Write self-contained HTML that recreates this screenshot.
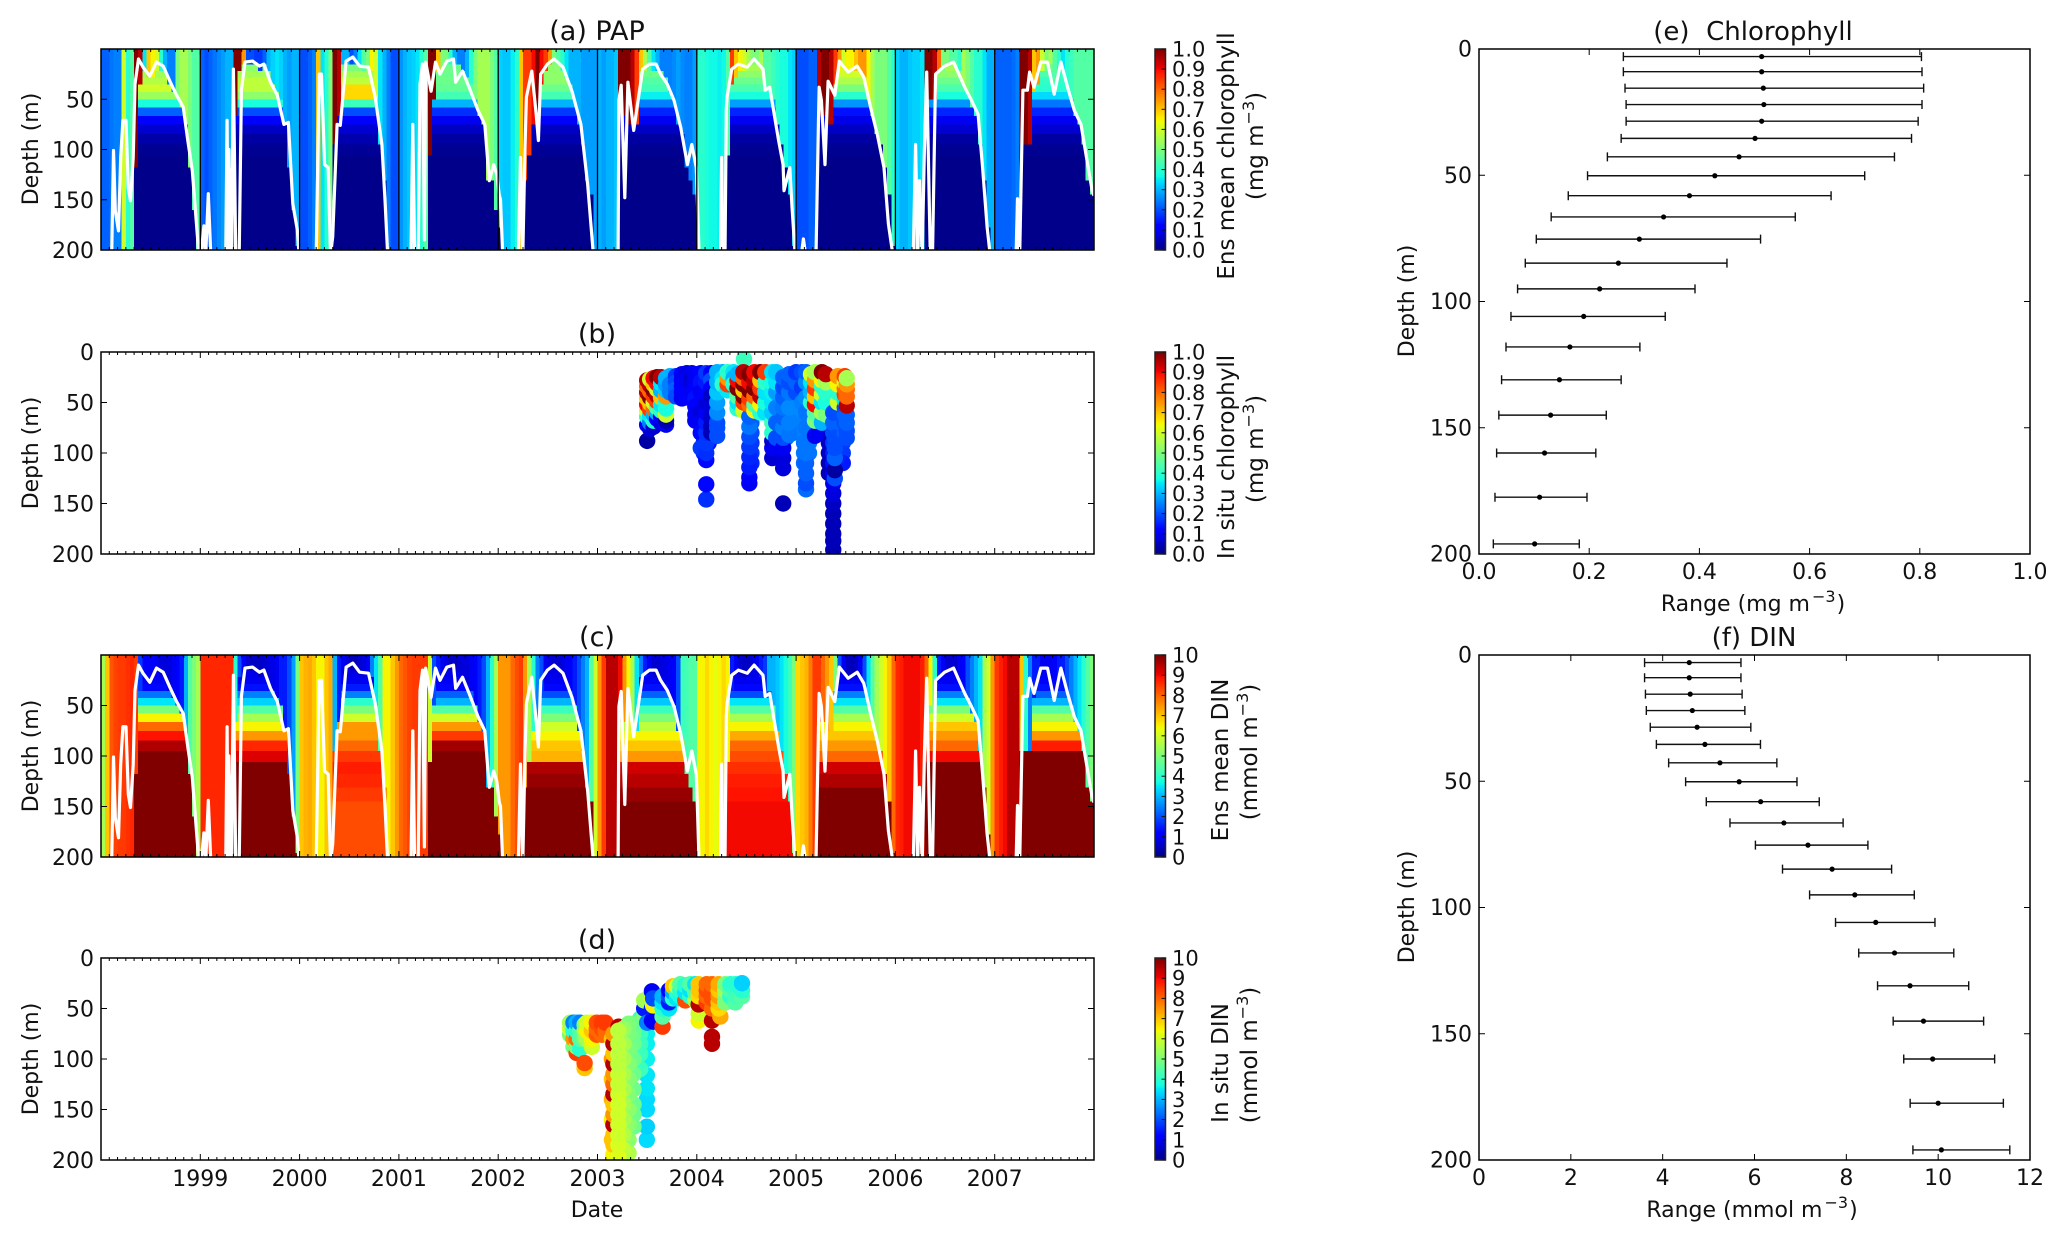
<!DOCTYPE html>
<html lang="en">
<head>
<meta charset="utf-8">
<title>PAP chlorophyll and DIN depth-time plots</title>
<style>
  html, body { margin: 0; padding: 0; background: #fff; }
  svg { display: block; }
  text { font-family: "DejaVu Sans", "Liberation Sans", sans-serif; fill: #111; }
</style>
</head>
<body>
<svg id="figure" xmlns="http://www.w3.org/2000/svg" width="2067" height="1244" viewBox="0 0 2067 1244">
  <rect x="0" y="0" width="2067" height="1244" fill="#ffffff"/>
  <g id="layers"></g>

  <text x="597" y="40" font-size="27" text-anchor="middle">(a) PAP</text>
  <text x="597" y="343" font-size="27" text-anchor="middle">(b)</text>
  <text x="597" y="646" font-size="27" text-anchor="middle">(c)</text>
  <text x="597" y="949" font-size="27" text-anchor="middle">(d)</text>
  <text x="1753" y="40" font-size="26" text-anchor="middle">(e)&#160;&#160;Chlorophyll</text>
  <text x="1754" y="646" font-size="26" text-anchor="middle">(f) DIN</text>

  <text transform="translate(38,149) rotate(-90)" font-size="22" text-anchor="middle">Depth (m)</text>
  <text transform="translate(38,453) rotate(-90)" font-size="22" text-anchor="middle">Depth (m)</text>
  <text transform="translate(38,756) rotate(-90)" font-size="22" text-anchor="middle">Depth (m)</text>
  <text transform="translate(38,1059) rotate(-90)" font-size="22" text-anchor="middle">Depth (m)</text>
  <text transform="translate(1414,301) rotate(-90)" font-size="22" text-anchor="middle">Depth (m)</text>
  <text transform="translate(1414,907) rotate(-90)" font-size="22" text-anchor="middle">Depth (m)</text>

  <text x="597" y="1217" font-size="22" text-anchor="middle">Date</text>
  <text x="1753" y="611" font-size="22" text-anchor="middle">Range (mg m<tspan font-size="16" dy="-9" dx="2">−3</tspan><tspan dy="9" dx="1">)</tspan></text>
  <text x="1752" y="1217" font-size="22" text-anchor="middle">Range (mmol m<tspan font-size="16" dy="-9" dx="2">−3</tspan><tspan dy="9" dx="1">)</tspan></text>

  <text transform="translate(1234,156) rotate(-90)" font-size="23" text-anchor="middle">Ens mean chlorophyll</text>
  <text transform="translate(1263,146) rotate(-90)" font-size="23" text-anchor="middle">(mg m<tspan font-size="16" dy="-9">−3</tspan><tspan dy="9">)</tspan></text>
  <text transform="translate(1234,457) rotate(-90)" font-size="23" text-anchor="middle">In situ chlorophyll</text>
  <text transform="translate(1263,449) rotate(-90)" font-size="23" text-anchor="middle">(mg m<tspan font-size="16" dy="-9">−3</tspan><tspan dy="9">)</tspan></text>
  <text transform="translate(1228,760) rotate(-90)" font-size="23" text-anchor="middle">Ens mean DIN</text>
  <text transform="translate(1257,752) rotate(-90)" font-size="23" text-anchor="middle">(mmol m<tspan font-size="16" dy="-9">−3</tspan><tspan dy="9">)</tspan></text>
  <text transform="translate(1228,1063) rotate(-90)" font-size="23" text-anchor="middle">In situ DIN</text>
  <text transform="translate(1257,1055) rotate(-90)" font-size="23" text-anchor="middle">(mmol m<tspan font-size="16" dy="-9">−3</tspan><tspan dy="9">)</tspan></text>
</svg>

<script>
// ---- Shared categories ----
const modelYears = [1998, 1999, 2000, 2001, 2002, 2003, 2004, 2005, 2006, 2007];
const dateTickLabels = [1999, 2000, 2001, 2002, 2003, 2004, 2005, 2006, 2007];
const depthLevels = [3, 9, 15.5, 22, 28.6, 35.4, 42.7, 50.2, 58.1, 66.5, 75.3, 84.8, 95, 105.9, 118, 131, 145, 160, 177.5, 196];
const depthTicksNoZero = [50, 100, 150, 200];
const depthTicksWithZero = [0, 50, 100, 150, 200];
const chlColorbarTicks = [0, 0.1, 0.2, 0.3, 0.4, 0.5, 0.6, 0.7, 0.8, 0.9, 1];
const dinColorbarTicks = [0, 1, 2, 3, 4, 5, 6, 7, 8, 9, 10];
const chlRangeTicks = [0, 0.2, 0.4, 0.6, 0.8, 1];
const dinRangeTicks = [0, 2, 4, 6, 8, 10, 12];

// ---- Mixing depth per half-month column (m), one row per year ----
const mixDepth = [
  [200,200,200,200,200,200,200,200,110,35,22,25,25,20,20,22,30,40,48,55,75,110,150,200],
  [200,200,200,200,200,200,200,200,62,20,14,13,12,12,16,15,20,30,40,50,75,110,150,190],
  [200,200,200,200,200,200,200,200,90,60,15,12,10,10,15,18,18,22,48,85,130,200,200,200],
  [200,200,200,200,200,200,200,100,45,20,20,15,12,10,15,22,25,35,45,60,75,120,130,150],
  [170,200,200,200,200,200,120,100,70,60,30,20,15,12,15,18,25,35,50,70,85,125,145,200],
  [200,200,200,200,200,65,65,70,70,70,20,20,18,17,17,22,28,40,50,70,80,110,125,145],
  [200,200,200,200,200,200,200,100,30,25,20,20,15,15,15,20,30,35,48,70,90,110,140,190],
  [200,200,200,200,200,60,60,70,75,30,15,17,20,20,17,20,25,45,65,80,90,110,135,180],
  [200,200,200,200,200,200,200,50,50,45,20,16,15,14,13,17,30,40,52,62,85,120,175,200],
  [200,200,200,200,200,200,85,85,85,40,30,18,15,15,30,30,20,35,50,62,75,95,125,140]
];

// ---- Ensemble mean chlorophyll within the mixed layer (mg m-3) ----
const chlMixed = [
  [.22,.22,.24,.25,.25,.6,.4,.45,1,.95,.35,.7,.65,.6,.4,.3,.25,.25,.5,.55,.55,.5,.45,.45],
  [.22,.2,.22,.24,.26,.28,.3,.3,1,1,.75,.2,.2,.18,.18,.22,.3,.33,.35,.33,.3,.28,.3,.3],
  [.2,.2,.22,.25,.7,.35,.4,.5,1,.95,.3,.3,.2,.25,.35,.45,.5,.65,.6,.35,.3,.25,.2,.2],
  [.27,.3,.32,.33,.35,.4,.45,1,1,.7,.5,.5,.4,.3,.25,.25,.3,.4,.5,.55,.55,.55,.5,.45],
  [.33,.32,.32,.36,.4,.7,.85,.85,.9,1,.9,.85,.75,.5,.45,.4,.35,.3,.3,.3,.28,.28,.28,.28],
  [.3,.28,.3,.3,.32,1,1,1,.95,.85,.7,.55,.45,.35,.3,.25,.25,.25,.26,.28,.26,.25,.25,.28],
  [.4,.4,.38,.37,.37,.36,.37,.45,.85,.7,.65,.6,.55,.5,.5,.55,.45,.45,.42,.4,.38,.38,.35,.33],
  [.2,.2,.2,.22,.22,.95,1,1,.95,.85,.75,.6,.65,.65,.7,.75,.75,.65,.55,.5,.5,.5,.45,.4],
  [.33,.3,.3,.32,.33,.33,.35,1,1,.95,.8,.5,.5,.45,.45,.4,.55,.5,.45,.4,.4,.35,.3,.3],
  [.22,.22,.22,.22,.23,.25,1,1,.95,.7,.75,.6,.5,.55,.45,.4,.35,.4,.42,.45,.45,.45,.45,.45]
];

// ---- Ensemble mean chlorophyll below the mixed layer, per depth level ----
const chlBelow = [
  [.52,.52,.52,.54,.57,.6,.54,.38,.22,.11,.07,.035,.015,.01,.01,.01,.01,.01,.01,.01],
  [.55,.55,.52,.55,.58,.58,.52,.38,.2,.11,.06,.03,.015,.01,.01,.01,.01,.01,.01,.01],
  [.5,.5,.5,.55,.58,.68,.68,.42,.2,.11,.07,.04,.02,.01,.01,.01,.01,.01,.01,.01],
  [.5,.48,.48,.48,.48,.47,.43,.3,.17,.1,.06,.03,.015,.01,.01,.01,.01,.01,.01,.01],
  [.55,.55,.52,.52,.52,.48,.43,.3,.18,.11,.06,.04,.02,.01,.01,.01,.01,.01,.01,.01],
  [.48,.48,.48,.48,.45,.43,.36,.25,.16,.1,.06,.03,.015,.01,.01,.01,.01,.01,.01,.01],
  [.55,.55,.55,.52,.48,.44,.38,.28,.16,.1,.06,.03,.015,.01,.01,.01,.01,.01,.01,.01],
  [.68,.65,.65,.6,.56,.5,.4,.27,.14,.09,.06,.03,.015,.01,.01,.01,.01,.01,.01,.01],
  [.55,.55,.55,.52,.48,.44,.38,.27,.16,.1,.07,.03,.015,.01,.01,.01,.01,.01,.01,.01],
  [.48,.48,.48,.44,.41,.4,.34,.24,.16,.1,.07,.03,.015,.01,.01,.01,.01,.01,.01,.01]
];

// ---- Ensemble mean DIN within the mixed layer (mmol m-3) ----
const dinMixed = [
  [5.5,7,8.2,8.4,8.5,8.5,8.6,8.7,8.5,1.8,1.2,1.2,1.2,1,.8,.8,.8,1,1.2,1.5,3,4.5,5,5.5],
  [8.7,8.7,8.7,8.7,8.7,8.7,8.7,8.7,4,2,1.2,.7,.6,.6,.6,.7,.8,.9,1,1.5,1.5,2,2.8,5],
  [7,7.2,7.3,7,6.5,6.5,7,7.3,3,1.5,1,.8,.5,.5,.7,.8,1,2.5,3.5,4.5,6.5,6.5,7,7.5],
  [8,8.2,8.4,8.5,8.5,8.5,8.5,6,2,1.5,1,.8,.6,.6,.7,.8,.8,1,1.2,1.5,2,3,4,5.5],
  [7.5,7.5,7.5,8,8.3,8.5,7.5,5.5,4,2.5,2,1,.8,.7,.7,.8,1,1.2,1.5,2,2.5,3,4.5,6],
  [7.5,8.5,9.5,9.5,9.5,9,7.5,6.5,5.5,3.5,2.5,1.5,1,.7,.7,.8,.9,1,1.2,2,4.2,4.3,4.5,4.5],
  [6.5,6.5,6.8,6.5,6.3,6.5,6.8,6.5,1.5,1,.7,.6,.6,.8,1,1.5,1.8,3,3,3.2,3.5,3.8,4.2,5],
  [6.8,7,7.2,7.8,8.5,8.5,8,7.5,7,5,2,1,.6,.5,.6,1,2,3.5,4.5,5.5,6,6.5,7,8],
  [8.7,8.8,9,9,9,9,8.8,8,6.5,4,1.5,1,.7,.7,.7,1,1.2,2,2.5,3,3.5,5.5,6,7.5],
  [8.5,8.8,9,9.5,9.5,9.5,7,4,2.5,1.5,1.5,1,1,1,1.2,1.5,1.5,2,2.5,3,3.5,4,4.5,5]
];

// ---- Ensemble mean DIN below the mixed layer, per depth level ----
const dinBelow = [
  [.8,.8,.9,1,1.3,2.4,3.5,5,6.5,8,8.9,9.6,10,10,10,10,10,10,10,10],
  [.8,.8,.9,1,1.4,2.5,3.3,4.5,5.5,6.5,7.5,8.7,9.2,10,10,10,10,10,10,10],
  [.8,.8,.9,1,1.5,2.5,4,5,6,7.5,7.5,8,8.5,8.8,8.7,8.5,8.3,8.3,8.3,8.3],
  [.8,.8,.9,1,1.3,2.2,3,4.5,6,7.5,8.5,9.7,10,10,10,10,10,10,10,10],
  [.8,.8,.9,1,1.3,2,3,4.2,5,6,6.5,7,7.2,9.6,9.8,10,10,10,10,10],
  [.8,.8,.9,1,1.4,2.2,3.2,4.2,5,5.8,6.5,7,7.5,9.3,9.5,9.8,10,10,10,10],
  [.8,.8,.9,1,1.3,2,3.5,4.5,5.5,6.5,7.3,8,8.3,8.6,8.8,8.9,9,9,9,9],
  [.8,.8,.9,1,1.4,2.5,3.5,4.5,5.5,6.5,7,7.5,8,9.3,9.6,10,10,10,10,10],
  [.8,.8,.9,1,1.4,2.5,3.5,5,6,7,7.5,8,9,10,10,10,10,10,10,10],
  [.9,.9,1,1.1,1.4,2.2,3,4.5,5.5,6.5,7.5,8.8,10,10,10,10,10,10,10,10]
];

// ---- Mixed layer depth line ----
const mldDate = [
  1998.108,1998.126,1998.144,1998.176,1998.198,1998.221,1998.252,1998.275,1998.297,1998.324,1998.342,1998.378,1998.423,1998.491,1998.559,1998.626,1998.694,1998.761,1998.829,1998.874,1998.919,1998.964,1998.986,
  1999.009,1999.036,1999.054,1999.081,1999.108,1999.234,1999.257,1999.27,1999.279,1999.288,1999.297,1999.306,1999.315,1999.333,1999.356,1999.392,1999.414,1999.45,1999.527,1999.595,1999.64,1999.707,1999.775,1999.842,1999.887,1999.932,1999.977,1999.995,
  2000.167,2000.198,2000.221,2000.252,2000.288,2000.311,2000.333,2000.378,2000.41,2000.468,2000.536,2000.604,2000.694,2000.761,2000.829,2000.86,2000.887,
  2001.122,2001.14,2001.158,2001.194,2001.212,2001.239,2001.257,2001.27,2001.324,2001.369,2001.414,2001.482,2001.55,2001.572,2001.64,2001.707,2001.797,2001.865,2001.91,2001.955,2001.986,
  2002.01,2002.023,2002.045,2002.203,2002.225,2002.248,2002.27,2002.284,2002.338,2002.383,2002.405,2002.428,2002.495,2002.563,2002.653,2002.743,2002.833,2002.901,2002.959,
  2003.207,2003.216,2003.239,2003.275,2003.306,2003.365,2003.455,2003.523,2003.59,2003.635,2003.703,2003.77,2003.838,2003.905,2003.95,2003.995,
  2004.005,2004.023,2004.239,2004.25,2004.261,2004.284,2004.297,2004.306,2004.351,2004.419,2004.509,2004.577,2004.667,2004.689,2004.734,2004.824,2004.869,2004.878,2004.937,2004.959,2004.991,
  2005.052,2005.074,2005.097,2005.2,2005.232,2005.255,2005.291,2005.322,2005.39,2005.435,2005.525,2005.615,2005.682,2005.75,2005.818,2005.885,2005.93,2005.975,
  2006.18,2006.203,2006.225,2006.243,2006.27,2006.292,2006.315,2006.351,2006.374,2006.405,2006.495,2006.586,2006.698,2006.766,2006.833,2006.878,2006.923,2006.955,
  2007.216,2007.23,2007.252,2007.284,2007.329,2007.351,2007.396,2007.464,2007.532,2007.599,2007.667,2007.734,2007.802,2007.869,2007.937,2007.982,2008
];
const mldDepth = [
  205,101,161,181,108,71,71,138,151,108,35,10,18,27,13,17,32,46,58,91,121,177,205,
  205,176,205,144,210,210,200,71,200,100,200,120,200,20,205,205,41,13,12,17,15,33,46,75,73,154,180,205,
  205,25,25,115,118,205,187,75,76,12,8,17,18,48,95,150,205,
  205,75,205,205,35,15,190,13,42,13,25,12,10,33,22,38,61,75,131,115,125,
  145,150,205,205,108,205,98,48,22,65,91,25,15,10,18,42,75,135,205,
  205,51,36,148,33,81,20,15,15,25,35,51,78,115,95,118,
  148,205,205,108,205,205,60,47,20,15,18,10,20,41,38,91,115,141,118,157,205,
  205,189,205,205,38,51,115,32,46,12,23,17,28,58,85,118,174,205,
  205,95,205,131,205,100,23,205,205,25,17,13,38,51,65,118,177,205,
  205,149,205,41,41,23,38,13,13,45,13,38,61,75,115,141,146
];

// ---- In situ chlorophyll profiles (panel b) ----
const chlObsDate = [2004.07,2004.12,2004.18,2004.55,2004.84,2004.9,2004.97,2005.08,2005.13,2005.33,2005.44,2005.47,2003.5,2003.53,2003.565,2003.6,2003.64,2003.69,2003.73,2003.79,2003.85,2003.9,2003.95,2003.985,2004.04,2004.095,2004.145,2004.205,2004.26,2004.31,2004.37,2004.475,2004.41,2004.47,2004.529,2004.58,2004.64,2004.69,2004.76,2004.8,2004.87,2004.93,2005,2005.06,2005.1,2005.15,2005.19,2005.26,2005.3,2005.374,2005.39,2005.42,2005.49,2005.51];
const chlObsDepth = [
  [30,40,50,60,70,80,90,100],[30,40,50,60,70,80,90],[30,40,50,60,70,75],[60,70,80,90,100,110],[60,70,80,90],[60,70,80,85],[50,60,70,80],[40,50,60,70,80,90,100,110],[40,50,60,70,80,90,100],[70,80,90,100,110,120],[60,70,80,90,100],[60,70,80,90,100,110],
  [88,72,64,58,52,46,40,34,28],[76,70,63,57,51,45,39,33,27],[74,68,62,56,50,44,38,32,26],[66,60,55,49,43,37,31,25],
  [70,64,58,52,45,38,31,25],[72,68,62,56,50,44,38,32,26],[24,32,40],[24,30,37,44],[22,28,34,40,46],[21,27,33,39,45],[21,27,33,39],
  [22,30,38,46,54,62,68],[21,30,40,50,60,70,80,95],[146,131,107,100,90,80,70,60,50,40,30,21],[21,28,36,44,55,66,74,80],
  [83,75,70,60,50,40,30,20],[20,26,32],[38,32,26,20],[20,26,32],[7],[56,50,44,36,28,22],[58,50,44,38,32,26,20],
  [130,124,114,104,94,84,74,64,52,46,38,30,22],[58,52,44,36,28,20],[60,52,44,36,28,20],[60,50,40,30,20],
  [105,95,88,80,70,60,50,40,30,20],[95,85,70,55,40,30,20],[150,115,105,95,85,75,65,55,45,35,25],[82,70,55,40,30,22],
  [40,30,20],[50,35,20],[136,130,120,110,100,90,75,60,45,30,20],[50,40,30,22],[83,68,60,52,44,36,28,20],[70,60,50,42,34,28,20],[62,50,40,30,22],
  [196,187,180,170,160,150,140,130,120,110,100,90,80,70,60],[125,117,105,95,85],[50,40,32,24],[80,70,62,55,48,42,36,30,24],[85,78,70,62,53,44,37,32,26]
];
const chlObsValue = [
  [.1,.12,.1,.1,.12,.15,.15,.16],[.12,.1,.08,.08,.1,.12,.14],[.2,.2,.22,.2,.2,.2],[.2,.22,.2,.18,.18,.16],[.24,.25,.24,.22],[.26,.25,.24,.22],[.25,.26,.25,.24],[.24,.25,.26,.25,.25,.24,.24,.23],[.26,.26,.25,.25,.25,.24,.24],[.08,.07,.06,.06,.05,.05],[.22,.22,.2,.2,.2],[.22,.2,.2,.18,.18,.15],
  [.03,.12,.4,.6,.9,.7,.95,.8,.95],[.08,.25,.35,.85,.7,1,.8,.95,.6],[.07,.4,.3,.8,.6,.85,1,.7,.9],[.12,.3,.45,.85,.95,.6,.9,1],
  [.08,.1,.4,.35,.7,.3,.35,.95],[.1,.04,.6,.38,.38,.75,.32,.28,.3],[.3,.25,.25],[.18,.2,.22,.2],[.12,.1,.12,.12,.1],[.08,.1,.1,.12,.12],[.1,.07,.08,.1],
  [.1,.1,.12,.14,.12,.1,.1],[.12,.14,.1,.12,.08,.1,.13,.18],[.17,.13,.13,.17,.18,.17,.15,.1,.08,.12,.15,.18],[.12,.2,.12,.06,.08,.07,.06,.05],
  [.2,.2,.2,.26,.28,.32,.3,.3],[.3,.35,.4],[.35,.85,.75,.4],[.35,.3,.4],[.42],[.4,.35,.45,1,.9,.3],[.6,.85,1,.7,1,.8,.95],
  [.1,.12,.15,.16,.18,.2,.24,.22,.8,.85,1,.9,1],[.65,.45,.8,1,.95,.9],[.4,.65,.95,.85,.7,1],[.35,.38,.35,.4,.85],
  [.07,.1,.07,.4,.42,.32,.35,.36,.38,.35],[.1,.2,.22,.25,.28,.35,.32],[.05,.08,.08,.1,.2,.25,.22,.24,.22,.2,.22],[.24,.25,.26,.24,.2,.22],
  [.2,.22,.18],[.25,.18,.2],[.23,.2,.22,.22,.24,.24,.24,.24,.26,.26,.22],[.4,.3,.35,.6],[.1,.5,.45,.9,.7,.85,.75,.55],[.3,.55,.35,.6,.4,.65,1],[.5,.38,.4,.55,.95],
  [.04,.05,.05,.05,.05,.06,.08,.09,.1,.14,.15,.18,.2,.22,.2],[.2,.03,.22,.2,.2],[.6,.4,.65,.75],[.22,.2,.22,.2,.35,.85,.8,.6,.85],[.2,.2,.22,.22,.95,.8,.8,.75,.55]
];

// ---- In situ DIN profiles (panel d) ----
const dinObsDate = [2002.724,2002.758,2002.79,2002.825,2002.87,2002.892,2002.943,2002.993,2003.044,2003.08,2003.145,2003.16,2003.212,2003.497,2003.43,2003.363,2003.313,2003.262,2003.21,2003.47,2003.5,2003.548,2003.56,2003.655,2003.72,2003.76,2003.8,2003.834,2003.884,2003.934,2003.985,2004.019,2004.1,2004.153,2004.237,2004.22,2004.287,2004.338,2004.388,2004.455];
const dinObsDepth = [
  [76,70,64],[88,80,72,64],[94,88,80,72,64],[90,80,72,64],[109,104,80,72,66],[80,72,64],[88,80,72,64],[76,70,64],[76,70,64],[72,64],
  [180,160,140,120,100,80],[195,185,175,165,155,145,135,125,115,105,95,85,75],[68],
  [180,167,150,140,129,116,100,85,75,65],[110,95,85,75,65,60],[167,155,145,130,115,100,85,75,65],[193,180,165,150,135,120,105,90,75,65],[190,175,160,145,130,115,100,85,70],[197,185,175,165,155,145,135,125,115,105,95,85,72],
  [58,50,42],[64],[62,50,40,33],[63,47,40],[68,58,50,44,38],[50,44,38,32],[40,34,28],[40,34,28],[38,32,26],[42,34,27],[38,32,26],[42,34,26],
  [62,55,46,38,32,26],[44,38,32,26],[85,78,62,50,40,32,26],[58],[50,44,38,32,26],[44,38,32,26],[38,32,26],[44,38,32,26],[38,32,25]
];
const dinObsValue = [
  [5,6,5.5],[5,7.5,4,2.5],[8.5,5,8,4,3],[4,4.5,4.5,2.5],[7,8.3,5,5.5,5],[5.5,6.5,6],[6,6.5,7,6.5],[8.2,8,8.3],[8,8.3,8.5],[8,8.5],
  [7,6.5,7.2,7,7.5,7],[6.5,7,7,9.5,7.5,7,9.5,8,7.5,9.5,7,9.5,7.5],[9.5],
  [3.4,3.3,3.4,3.4,3.5,3.5,3.6,3.6,3.6,3.7],[4.2,4.2,4.2,4.2,4.2,4.2],[4.8,4.8,4.8,4.8,4.8,4.8,4.8,4.8,4.7],[5.6,5.2,5.2,5.2,5.1,5.1,5.1,5,5,5],[5.8,5.6,5.5,5.5,5.5,5.5,5.5,5.5,5.3],[6.2,6.1,6,6,6,6,6,5.9,5.9,5.8,5.8,5.8,5.8],
  [5,1.5,5.5],[2.5],[1,1.5,6,1],[1,6.5,2],[8.5,4.5,4,3.5,3],[3.5,1.5,2,1.2],[4,3,7],[3.5,4,6],[3.8,4,4.5],[8.3,3.5,4],[4,3.5,4.5],[5.5,4.5,3.5],
  [6.5,6,9.5,6.8,7,7],[8.5,8,8.3,8],[9.5,9.5,9.5,8,8.3,8.3,8],[7.3],[6.8,7,7.5,7,7.3],[5,5,5.5,5],[4,4.5,4],[4.5,4.3,4.2,4],[4.5,4,3.3]
];

// ---- Ensemble ranges (panels e, f) ----
const chlRangeLow = [.262,.262,.265,.267,.267,.258,.233,.197,.162,.131,.104,.084,.07,.058,.049,.041,.036,.032,.029,.026];
const chlRangeMean = [.513,.513,.516,.517,.513,.501,.472,.428,.382,.335,.291,.253,.219,.19,.165,.146,.13,.119,.11,.101];
const chlRangeHigh = [.803,.804,.807,.804,.797,.785,.754,.7,.639,.574,.511,.45,.392,.338,.292,.258,.231,.212,.196,.182];
const dinRangeLow = [3.606,3.606,3.625,3.644,3.73,3.863,4.13,4.5,4.95,5.466,6.02,6.61,7.2,7.765,8.27,8.68,9.02,9.25,9.39,9.45];
const dinRangeMean = [4.579,4.579,4.6,4.646,4.75,4.92,5.247,5.666,6.134,6.64,7.164,7.69,8.185,8.64,9.05,9.387,9.68,9.88,10,10.07];
const dinRangeHigh = [5.705,5.705,5.73,5.79,5.92,6.13,6.487,6.925,7.41,7.93,8.47,8.986,9.48,9.93,10.34,10.665,10.99,11.23,11.42,11.56];

// ---- Drawing helpers ----
const SVG_NS = 'http://www.w3.org/2000/svg';
const layers = document.getElementById('layers');

function svgEl(tag, parent, attrs) {
  const node = document.createElementNS(SVG_NS, tag);
  for (const key in attrs) node.setAttribute(key, attrs[key]);
  parent.appendChild(node);
  return node;
}
function piecewise(pts, t) {
  for (let i = 1; i < pts.length; i++) {
    if (t <= pts[i][0]) {
      const a = pts[i - 1], b = pts[i];
      return a[1] + (b[1] - a[1]) * (t - a[0]) / (b[0] - a[0]);
    }
  }
  return pts[pts.length - 1][1];
}
const jetR = [[0, 0], [.35, 0], [.66, 1], [.89, 1], [1, .5]];
const jetG = [[0, 0], [.125, 0], [.375, 1], [.64, 1], [.91, 0], [1, 0]];
const jetB = [[0, .5], [.11, 1], [.34, 1], [.65, 0], [1, 0]];
function jet(t) {
  const v = Math.max(0, Math.min(1, t));
  const c = p => Math.round(255 * piecewise(p, v));
  return 'rgb(' + c(jetR) + ',' + c(jetG) + ',' + c(jetB) + ')';
}

const DATE_LEFT = 101, DATE_RIGHT = 1094;
const xDate = d => DATE_LEFT + (d - 1998) * (DATE_RIGHT - DATE_LEFT) / 10;
const depthScale = (top, bottom) => d => top + d / 200 * (bottom - top);

function makeClip(id, x, y, w, h) {
  const clip = svgEl('clipPath', layers, { id: id });
  svgEl('rect', clip, { x: x, y: y, width: w, height: h });
}

function drawHeatmap(panel, top, bottom, mixedVals, belowVals, vmax) {
  const yScale = depthScale(top, bottom);
  const g = svgEl('g', layers, { 'clip-path': 'url(#clip-' + panel + ')', 'shape-rendering': 'crispEdges' });
  
  
  modelYears.forEach((year, yi) => {
    const cols = mixDepth[yi].length;
    for (let c = 0; c < cols; c++) {
      const x0 = xDate(year + c / cols), x1 = xDate(year + (c + 1) / cols);
      depthLevels.forEach((lvl, k) => {
        const topDepth = k === 0 ? 0 : lvl;
        const botDepth = k === depthLevels.length - 1 ? 200 : depthLevels[k + 1];
        const value = lvl < mixDepth[yi][c] ? mixedVals[yi][c] : belowVals[yi][k];
        const cell = svgEl('rect', g, {
          x: x0, y: yScale(topDepth), width: x1 - x0 + 0.5,
          height: yScale(botDepth) - yScale(topDepth) + 0.5, fill: jet(value / vmax)
        });
        
        
      });
    }
  });
}

function drawMld(panel, top, bottom) {
  const yScale = depthScale(top, bottom);
  const pts = mldDate.map((d, i) => xDate(d).toFixed(1) + ',' + yScale(mldDepth[i]).toFixed(1)).join(' ');
  const line = svgEl('polyline', layers, {
    points: pts, fill: 'none', stroke: '#ffffff', 'stroke-width': 3.2,
    'stroke-linejoin': 'round', 'clip-path': 'url(#clip-' + panel + ')'
  });
  
  
}

function drawScatter(panel, top, bottom, dates, depths, values, vmax) {
  const yScale = depthScale(top, bottom);
  const g = svgEl('g', layers, { 'clip-path': 'url(#clip-' + panel + ')' });
  
  
  dates.forEach((date, p) => {
    depths[p].forEach((depth, i) => {
      const dot = svgEl('circle', g, {
        cx: xDate(date), cy: yScale(depth), r: 8.2, fill: jet(values[p][i] / vmax)
      });
      
      
    });
  });
}

function drawTimeAxes(panel, top, bottom, yTicks, withYearLines, withDateLabels) {
  const yScale = depthScale(top, bottom);
  const g = svgEl('g', layers, { stroke: '#000', 'stroke-width': 1, fill: 'none' });
  
  
  for (let y = 1998; y <= 2007; y++) {
    for (let m = 0; m < 12; m++) {
      const x = xDate(y + m / 12);
      const len = m === 0 ? 6 : 3;
      svgEl('path', g, { d: 'M' + x + ' ' + top + 'v' + len + 'M' + x + ' ' + bottom + 'v' + (-len) });
    }
    if (withYearLines && y > 1998) {
      const sep = svgEl('line', g, { x1: xDate(y), x2: xDate(y), y1: top, y2: bottom, 'stroke-width': 1.3 });
      
      
    }
  }
  yTicks.forEach(t => {
    const y = yScale(t);
    svgEl('path', g, { d: 'M' + DATE_LEFT + ' ' + y + 'h6M' + DATE_RIGHT + ' ' + y + 'h-6' });
    const label = svgEl('text', layers, { x: 94, y: y + 8, 'font-size': 22, 'text-anchor': 'end' });
    
    
    label.textContent = t;
  });
  const frame = svgEl('rect', g, { x: DATE_LEFT, y: top, width: DATE_RIGHT - DATE_LEFT, height: bottom - top, 'stroke-width': 1.5 });
  
  
  if (withDateLabels) {
    dateTickLabels.forEach(year => {
      const label = svgEl('text', layers, { x: xDate(year), y: 1186, 'font-size': 22, 'text-anchor': 'middle' });
      
      
      label.textContent = year;
    });
  }
}

function drawColorbar(panel, top, bottom, ticks, vmax, decimals) {
  const left = 1155, right = 1165.5, steps = 128;
  const g = svgEl('g', layers, { 'shape-rendering': 'crispEdges' });
  
  
  const h = (bottom - top) / steps;
  for (let i = 0; i < steps; i++) {
    const swatch = svgEl('rect', g, { x: left, y: bottom - (i + 1) * h, width: right - left, height: h + 0.6, fill: jet((i + 0.5) / steps) });
    
    
  }
  const frame = svgEl('rect', layers, { x: left, y: top, width: right - left, height: bottom - top, fill: 'none', stroke: '#222', 'stroke-width': 1.5 });
  
  
  ticks.forEach(t => {
    const y = bottom - t / vmax * (bottom - top);
    const tick = svgEl('line', layers, { x1: right - 4, x2: right, y1: y, y2: y, stroke: '#111', 'stroke-width': 1 });
    
    
    const label = svgEl('text', layers, { x: 1172, y: y + 7.5, 'font-size': 21 });
    
    
    label.textContent = t.toFixed(decimals);
  });
}

function drawRange(panel, top, bottom, xMax, xTicks, decimals, low, mean, high) {
  const left = 1479, right = 2030;
  const xScale = v => left + v / xMax * (right - left);
  const yScale = depthScale(top, bottom);
  const g = svgEl('g', layers, { stroke: '#000', 'stroke-width': 1, fill: 'none' });
  
  
  xTicks.forEach(t => {
    const x = xScale(t);
    svgEl('path', g, { d: 'M' + x + ' ' + top + 'v6M' + x + ' ' + bottom + 'v-6' });
    const label = svgEl('text', layers, { x: x, y: bottom + 25, 'font-size': 22, 'text-anchor': 'middle' });
    
    
    label.textContent = t.toFixed(decimals);
  });
  depthTicksWithZero.forEach(t => {
    const y = yScale(t);
    svgEl('path', g, { d: 'M' + left + ' ' + y + 'h6M' + right + ' ' + y + 'h-6' });
    const label = svgEl('text', layers, { x: 1472, y: y + 7.5, 'font-size': 22, 'text-anchor': 'end' });
    
    
    label.textContent = t;
  });
  depthLevels.forEach((depth, i) => {
    const y = yScale(depth), x0 = xScale(low[i]), x1 = xScale(high[i]);
    const bar = svgEl('path', g, {
      d: 'M' + x0 + ' ' + y + 'H' + x1 + 'M' + x0 + ' ' + (y - 4.5) + 'v9M' + x1 + ' ' + (y - 4.5) + 'v9',
      stroke: '#111', 'stroke-width': 1.4
    });
    
    
    const dot = svgEl('circle', g, { cx: xScale(mean[i]), cy: y, r: 2.6, fill: '#000', stroke: 'none' });
    
    
  });
  const frame = svgEl('rect', g, { x: left, y: top, width: right - left, height: bottom - top, 'stroke-width': 1.5 });
  
  
}

// ---- Panels ----
const A_TOP = 49, A_BOT = 250, B_TOP = 352, B_BOT = 554, C_TOP = 655, C_BOT = 857, D_TOP = 958, D_BOT = 1160;
makeClip('clip-a', DATE_LEFT, A_TOP, DATE_RIGHT - DATE_LEFT, A_BOT - A_TOP);
makeClip('clip-b', DATE_LEFT, B_TOP, DATE_RIGHT - DATE_LEFT, B_BOT - B_TOP);
makeClip('clip-c', DATE_LEFT, C_TOP, DATE_RIGHT - DATE_LEFT, C_BOT - C_TOP);
makeClip('clip-d', DATE_LEFT, D_TOP, DATE_RIGHT - DATE_LEFT, D_BOT - D_TOP);

drawHeatmap('a', A_TOP, A_BOT, chlMixed, chlBelow, 1);
drawMld('a', A_TOP, A_BOT);
drawTimeAxes('a', A_TOP, A_BOT, depthTicksNoZero, true, false);
drawColorbar('a', A_TOP, A_BOT, chlColorbarTicks, 1, 1);

drawScatter('b', B_TOP, B_BOT, chlObsDate, chlObsDepth, chlObsValue, 1);
drawTimeAxes('b', B_TOP, B_BOT, depthTicksWithZero, false, false);
drawColorbar('b', B_TOP, B_BOT, chlColorbarTicks, 1, 1);

drawHeatmap('c', C_TOP, C_BOT, dinMixed, dinBelow, 10);
drawMld('c', C_TOP, C_BOT);
drawTimeAxes('c', C_TOP, C_BOT, depthTicksNoZero, false, false);
drawColorbar('c', C_TOP, C_BOT, dinColorbarTicks, 10, 0);

drawScatter('d', D_TOP, D_BOT, dinObsDate, dinObsDepth, dinObsValue, 10);
drawTimeAxes('d', D_TOP, D_BOT, depthTicksWithZero, false, true);
drawColorbar('d', D_TOP, D_BOT, dinColorbarTicks, 10, 0);

drawRange('e', 49, 554, 1, chlRangeTicks, 1, chlRangeLow, chlRangeMean, chlRangeHigh);
drawRange('f', 655, 1160, 12, dinRangeTicks, 0, dinRangeLow, dinRangeMean, dinRangeHigh);
</script>
</body>
</html>
